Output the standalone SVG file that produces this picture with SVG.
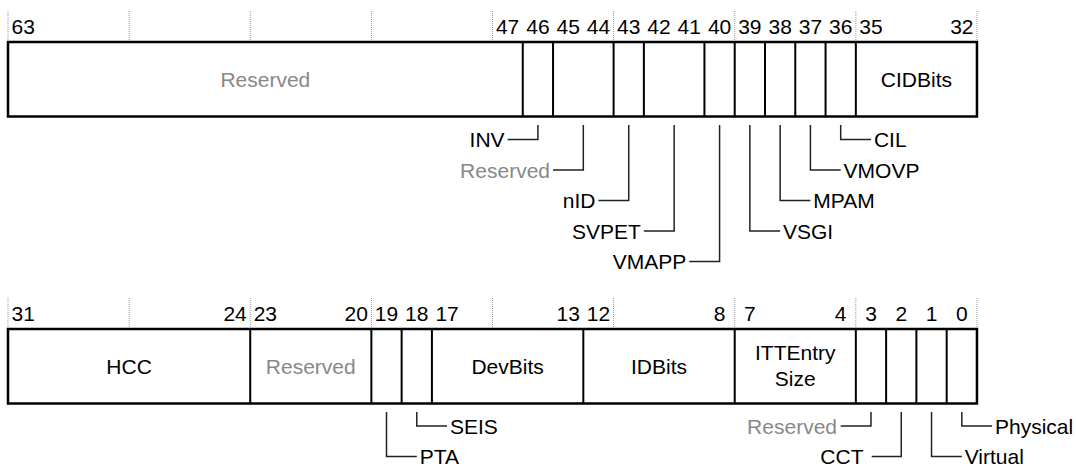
<svg xmlns="http://www.w3.org/2000/svg" width="1076" height="466" viewBox="0 0 1076 466">
<style>
text{font-family:"Liberation Sans",Arial,sans-serif;font-size:21px;fill:#000}
.g{fill:#888}
.m{text-anchor:middle}
.e{text-anchor:end}
.box{fill:#fff;stroke:#000;stroke-width:2.5}
.sep{stroke:#000;stroke-width:2}
.tick{stroke:#999;stroke-width:1;stroke-dasharray:1 1}
.lead{fill:none;stroke:#222;stroke-width:1.5}
</style>
<rect width="1076" height="466" fill="#fff"/>
<g id="ticks">
<path class="tick" d="M8 11V42M129.12 11V42M250.24 11V42M371.36 11V42M492.48 11V42M613.6 11V42M734.72 11V42M855.84 11V42M976.96 11V42"/>
<path class="tick" d="M8 298V329M129.12 298V329M250.24 298V329M371.36 298V329M492.48 298V329M613.6 298V329M734.72 298V329M855.84 298V329M976.96 298V329"/>
</g>
<g id="bitnums-top">
<text x="23.14" y="33.5" class="m">63</text>
<text x="507.62" y="33.5" class="m">47</text>
<text x="537.9" y="33.5" class="m">46</text>
<text x="568.18" y="33.5" class="m">45</text>
<text x="598.46" y="33.5" class="m">44</text>
<text x="628.74" y="33.5" class="m">43</text>
<text x="659.02" y="33.5" class="m">42</text>
<text x="689.3" y="33.5" class="m">41</text>
<text x="719.58" y="33.5" class="m">40</text>
<text x="749.86" y="33.5" class="m">39</text>
<text x="780.14" y="33.5" class="m">38</text>
<text x="810.42" y="33.5" class="m">37</text>
<text x="840.7" y="33.5" class="m">36</text>
<text x="870.98" y="33.5" class="m">35</text>
<text x="961.82" y="33.5" class="m">32</text>
</g>
<g id="bitnums-bottom">
<text x="23.14" y="320.5" class="m">31</text>
<text x="235.1" y="320.5" class="m">24</text>
<text x="265.38" y="320.5" class="m">23</text>
<text x="356.22" y="320.5" class="m">20</text>
<text x="386.5" y="320.5" class="m">19</text>
<text x="416.78" y="320.5" class="m">18</text>
<text x="447.06" y="320.5" class="m">17</text>
<text x="568.18" y="320.5" class="m">13</text>
<text x="598.46" y="320.5" class="m">12</text>
<text x="719.58" y="320.5" class="m">8</text>
<text x="749.86" y="320.5" class="m">7</text>
<text x="840.7" y="320.5" class="m">4</text>
<text x="870.98" y="320.5" class="m">3</text>
<text x="901.26" y="320.5" class="m">2</text>
<text x="931.54" y="320.5" class="m">1</text>
<text x="961.82" y="320.5" class="m">0</text>
</g>
<g id="register-high">
<rect class="box" x="8" y="42" width="968.96" height="74.5"/>
<path class="sep" d="M522.76 42V116.5M553.04 42V116.5M613.6 42V116.5M643.88 42V116.5M704.44 42V116.5M734.72 42V116.5M765 42V116.5M795.28 42V116.5M825.56 42V116.5M855.84 42V116.5"/>
</g>
<g id="f-reserved-63-47"><text x="265.38" y="86.5" class="m g">Reserved</text></g>
<g id="f-cidbits"><text x="916.4" y="86.5" class="m">CIDBits</text></g>
<g id="f-inv"><text x="504.6" y="147" class="e">INV</text></g>
<g id="f-reserved-45-44"><text x="550" y="177.5" class="e g">Reserved</text></g>
<g id="f-nid"><text x="595.5" y="208" class="e">nID</text></g>
<g id="f-svpet"><text x="640.9" y="238.5" class="e">SVPET</text></g>
<g id="f-vmapp"><text x="686.3" y="269" class="e">VMAPP</text></g>
<g id="f-vsgi"><text x="783" y="238.5">VSGI</text></g>
<g id="f-mpam"><text x="813.3" y="208">MPAM</text></g>
<g id="f-vmovp"><text x="843.6" y="177.5">VMOVP</text></g>
<g id="f-cil"><text x="873.9" y="147">CIL</text></g>
<g id="register-low">
<rect class="box" x="8" y="329" width="968.96" height="74.5"/>
<path class="sep" d="M250.24 329V403.5M371.36 329V403.5M401.64 329V403.5M431.92 329V403.5M583.32 329V403.5M734.72 329V403.5M855.84 329V403.5M886.12 329V403.5M916.4 329V403.5M946.68 329V403.5"/>
</g>
<g id="f-hcc"><text x="129.12" y="373.5" class="m">HCC</text></g>
<g id="f-reserved-23-20"><text x="310.8" y="373.5" class="m g">Reserved</text></g>
<g id="f-devbits"><text x="507.62" y="373.5" class="m">DevBits</text></g>
<g id="f-idbits"><text x="659.02" y="373.5" class="m">IDBits</text></g>
<g id="f-ittentrysize"><text x="795.28" y="360" class="m">ITTEntry</text><text x="795.28" y="386" class="m">Size</text></g>
<g id="f-pta"><text x="419.7" y="464">PTA</text></g>
<g id="f-seis"><text x="450" y="433.5">SEIS</text></g>
<g id="f-reserved-3"><text x="837" y="433.5" class="e g">Reserved</text></g>
<g id="f-cct"><text x="863.5" y="464" class="e">CCT</text></g>
<g id="f-virtual"><text x="964.7" y="464">Virtual</text></g>
<g id="f-physical"><text x="995" y="433.5">Physical</text></g>
<g id="connectors">
<path class="lead" d="M537.9 125V139.5H507.62"/>
<path class="lead" d="M583.32 125V170H553.04"/>
<path class="lead" d="M628.74 125V200.5H598.46"/>
<path class="lead" d="M674.16 125V231H643.88"/>
<path class="lead" d="M719.58 125V261.5H689.3"/>
<path class="lead" d="M749.86 125V231H780.14"/>
<path class="lead" d="M780.14 125V200.5H810.42"/>
<path class="lead" d="M810.42 125V170H840.7"/>
<path class="lead" d="M840.7 125V139.5H870.98"/>
<path class="lead" d="M386.5 412V456.5H416.78"/>
<path class="lead" d="M416.78 412V426H447.06"/>
<path class="lead" d="M870.98 412V426H840.7"/>
<path class="lead" d="M901.26 412V456.5H871.7"/>
<path class="lead" d="M931.54 412V456.5H961.82"/>
<path class="lead" d="M961.82 412V426H992.1"/>
</g>
</svg>
